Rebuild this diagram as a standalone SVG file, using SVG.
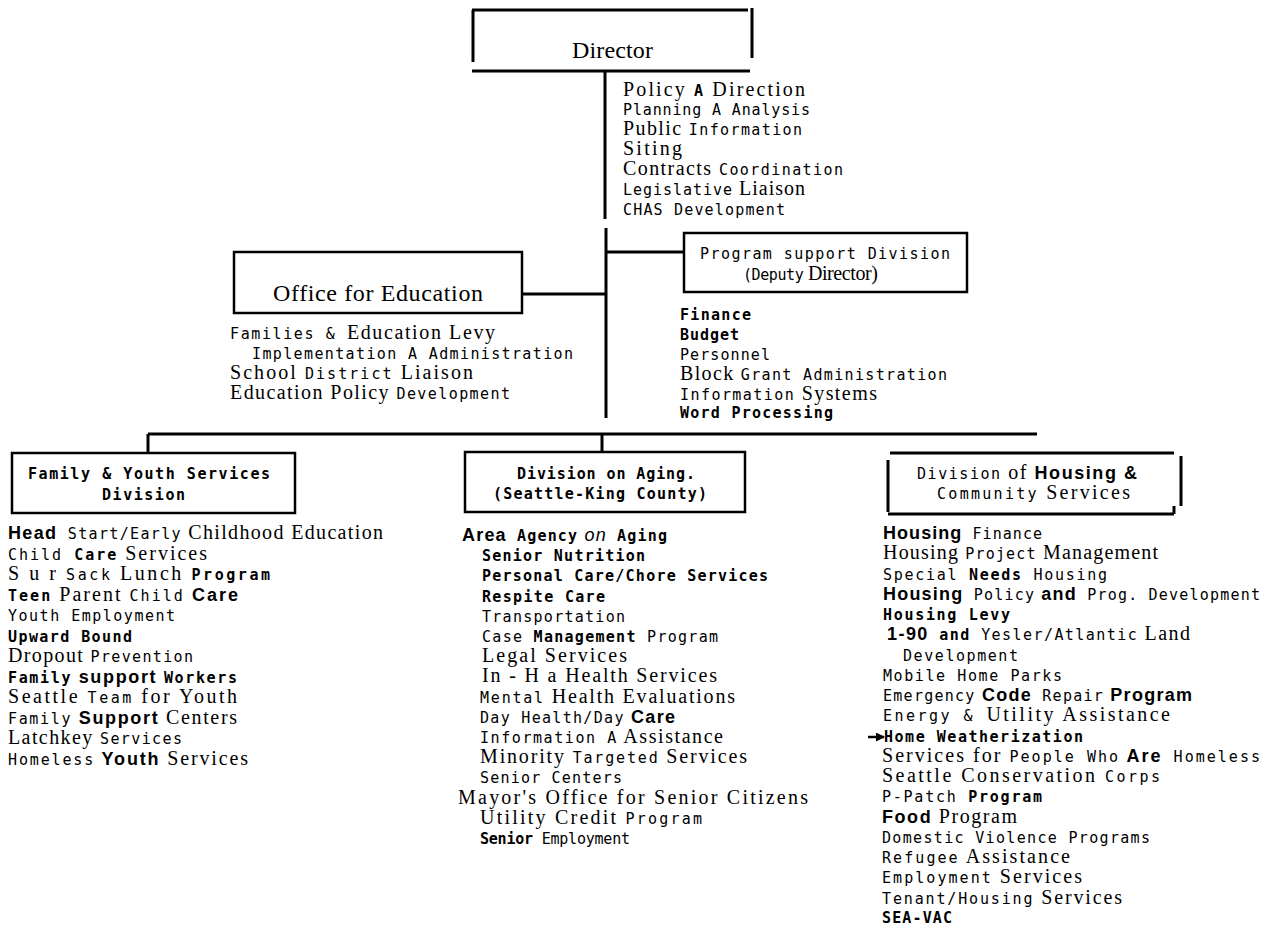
<svg xmlns="http://www.w3.org/2000/svg" width="1276" height="930" viewBox="0 0 1276 930">
<style>
text{fill:#000;font-family:"Liberation Serif",serif;font-size:20px}
.s{font-family:"Liberation Serif",serif;font-size:20px}
.sl{font-family:"Liberation Serif",serif;font-size:24px}
.m{font-family:"DejaVu Sans Mono",monospace;font-size:15px}
.mb{font-family:"DejaVu Sans Mono",monospace;font-size:15px;font-weight:bold}
.b{font-family:"Liberation Sans",sans-serif;font-size:18px;font-weight:bold}
.ln{stroke:#000;fill:none;stroke-width:3}
.bx{stroke:#000;fill:none;stroke-width:2.5}
</style>
<defs>
<marker id="ah" markerWidth="9" markerHeight="9" refX="8" refY="4.5" orient="auto" markerUnits="userSpaceOnUse"><path d="M0,0 L9,4.5 L0,9 Z" fill="#000"/></marker>
</defs>
<rect width="1276" height="930" fill="#fff"/>

<g id="connectors">
<line class="ln" x1="605" y1="71" x2="605" y2="219"/>
<line class="ln" x1="606" y1="228" x2="606" y2="418"/>
<line class="ln" x1="605" y1="252" x2="683" y2="252"/>
<line class="ln" x1="522" y1="294" x2="605" y2="294"/>
<line class="ln" x1="148" y1="434" x2="1037" y2="434"/>
<line class="ln" x1="148" y1="434" x2="148" y2="453" stroke-width="2"/>
<line class="ln" x1="602" y1="434" x2="602" y2="452" stroke-width="2"/>
</g>

<g id="director">
<line class="ln" x1="472" y1="10" x2="748" y2="10"/>
<line class="ln" x1="473" y1="10" x2="473" y2="62" stroke-width="2"/>
<line class="ln" x1="752" y1="8" x2="752" y2="58" stroke-width="4"/>
<line class="ln" x1="472" y1="71" x2="750" y2="71"/>
<text class="sl" x="572" y="58" textLength="81" lengthAdjust="spacing">Director</text>
</g>

<g id="director-staff">
<text x="623" y="96" textLength="182" lengthAdjust="spacing"><tspan class="s">Policy </tspan><tspan class="mb">A</tspan><tspan class="s"> Direction</tspan></text>
<text x="623" y="115" class="m" textLength="187" lengthAdjust="spacing">Planning A Analysis</text>
<text x="623" y="135" textLength="179" lengthAdjust="spacing"><tspan class="s">Public </tspan><tspan class="m">Information</tspan></text>
<text x="623" y="155" class="s" textLength="59" lengthAdjust="spacing">Siting</text>
<text x="623" y="175" textLength="220" lengthAdjust="spacing"><tspan class="s">Contracts </tspan><tspan class="m">Coordination</tspan></text>
<text x="623" y="195" textLength="182" lengthAdjust="spacing"><tspan class="m">Legislative</tspan><tspan class="s"> Liaison</tspan></text>
<text x="623" y="215" class="m" textLength="162" lengthAdjust="spacing">CHAS Development</text>
</g>

<g id="program-support">
<rect class="bx" x="684" y="233" width="283" height="59"/>
<text x="700" y="259" class="m" textLength="250" lengthAdjust="spacing">Program support Division</text>
<text x="743" y="280" textLength="135" lengthAdjust="spacing"><tspan class="m">(Deputy</tspan><tspan class="s"> Director)</tspan></text>
<text x="680" y="320" class="mb" textLength="71" lengthAdjust="spacing">Finance</text>
<text x="680" y="340" class="mb" textLength="59" lengthAdjust="spacing">Budget</text>
<text x="680" y="360" class="m" textLength="90" lengthAdjust="spacing">Personnel</text>
<text x="680" y="380" textLength="267" lengthAdjust="spacing"><tspan class="s">Block </tspan><tspan class="m">Grant Administration</tspan></text>
<text x="680" y="400" textLength="197" lengthAdjust="spacing"><tspan class="m">Information</tspan><tspan class="s"> Systems</tspan></text>
<text x="680" y="418" class="mb" textLength="153" lengthAdjust="spacing">Word Processing</text>
</g>

<g id="office-education">
<rect class="bx" x="234" y="252" width="288" height="61"/>
<text x="273" y="301" class="sl" textLength="210" lengthAdjust="spacing">Office for Education</text>
<text x="230" y="339" textLength="265" lengthAdjust="spacing"><tspan class="m">Families &amp; </tspan><tspan class="s">Education Levy</tspan></text>
<text x="252" y="359" class="m" textLength="321" lengthAdjust="spacing">Implementation A Administration</text>
<text x="230" y="379" textLength="243" lengthAdjust="spacing"><tspan class="s">School </tspan><tspan class="m">District</tspan><tspan class="s"> Liaison</tspan></text>
<text x="230" y="399" textLength="280" lengthAdjust="spacing"><tspan class="s">Education Policy </tspan><tspan class="m">Development</tspan></text>
</g>

<g id="family-youth">
<rect class="bx" x="12" y="453" width="283" height="60"/>
<text x="28" y="479" class="mb" textLength="242" lengthAdjust="spacing">Family &amp; Youth Services</text>
<text x="102" y="500" class="mb" textLength="83" lengthAdjust="spacing">Division</text>
<text x="8" y="539" textLength="375" lengthAdjust="spacing"><tspan class="b">Head</tspan><tspan class="m"> Start/Early</tspan><tspan class="s"> Childhood Education</tspan></text>
<text x="8" y="559.5" textLength="199" lengthAdjust="spacing"><tspan class="m">Child</tspan><tspan class="mb"> Care</tspan><tspan class="s"> Services</tspan></text>
<text x="8" y="580" textLength="262" lengthAdjust="spacing"><tspan class="s">S u r </tspan><tspan class="m">Sack</tspan><tspan class="s"> Lunch </tspan><tspan class="mb">Program</tspan></text>
<text x="8" y="600.5" textLength="230" lengthAdjust="spacing"><tspan class="mb">Teen</tspan><tspan class="s"> Parent </tspan><tspan class="m">Child</tspan><tspan class="b"> Care</tspan></text>
<text x="8" y="621" class="m" textLength="167" lengthAdjust="spacing">Youth Employment</text>
<text x="8" y="641.5" class="mb" textLength="124" lengthAdjust="spacing">Upward Bound</text>
<text x="8" y="662" textLength="185" lengthAdjust="spacing"><tspan class="s">Dropout </tspan><tspan class="m">Prevention</tspan></text>
<text x="8" y="682.5" textLength="229" lengthAdjust="spacing"><tspan class="mb">Family</tspan><tspan class="b"> support </tspan><tspan class="mb">Workers</tspan></text>
<text x="8" y="703" textLength="229" lengthAdjust="spacing"><tspan class="s">Seattle </tspan><tspan class="m">Team</tspan><tspan class="s"> for Youth</tspan></text>
<text x="8" y="723.5" textLength="229" lengthAdjust="spacing"><tspan class="m">Family</tspan><tspan class="b"> Support</tspan><tspan class="s"> Centers</tspan></text>
<text x="8" y="744" textLength="174" lengthAdjust="spacing"><tspan class="s">Latchkey </tspan><tspan class="m">Services</tspan></text>
<text x="8" y="764.5" textLength="240" lengthAdjust="spacing"><tspan class="m">Homeless</tspan><tspan class="b"> Youth</tspan><tspan class="s"> Services</tspan></text>
</g>

<g id="aging">
<rect class="bx" x="465" y="452" width="280" height="60"/>
<text x="517" y="479" class="mb" textLength="178" lengthAdjust="spacing">Division on Aging.</text>
<text x="493" y="499" class="mb" textLength="214" lengthAdjust="spacing">(Seattle-King County)</text>
<text x="462" y="541" textLength="205" lengthAdjust="spacing"><tspan class="b">Area</tspan><tspan class="mb"> Agency</tspan><tspan font-family="Liberation Sans, sans-serif" font-size="18" font-style="italic"> on</tspan><tspan class="mb"> Aging</tspan></text>
<text x="482" y="561.2" class="mb" textLength="163" lengthAdjust="spacing">Senior Nutrition</text>
<text x="482" y="581.4" class="mb" textLength="286" lengthAdjust="spacing">Personal Care/Chore Services</text>
<text x="482" y="601.6" class="mb" textLength="123" lengthAdjust="spacing">Respite Care</text>
<text x="482" y="621.8" class="m" textLength="143" lengthAdjust="spacing">Transportation</text>
<text x="482" y="642" textLength="236" lengthAdjust="spacing"><tspan class="m">Case </tspan><tspan class="mb">Management</tspan><tspan class="m"> Program</tspan></text>
<text x="482" y="662.2" class="s" textLength="145" lengthAdjust="spacing">Legal Services</text>
<text x="482" y="682.4" class="s" textLength="235" lengthAdjust="spacing">In - H a Health Services</text>
<text x="480" y="702.6" textLength="255" lengthAdjust="spacing"><tspan class="m">Mental</tspan><tspan class="s"> Health Evaluations</tspan></text>
<text x="480" y="722.8" textLength="195" lengthAdjust="spacing"><tspan class="m">Day Health/Day</tspan><tspan class="b"> Care</tspan></text>
<text x="480" y="743" textLength="243" lengthAdjust="spacing"><tspan class="m">Information A</tspan><tspan class="s"> Assistance</tspan></text>
<text x="480" y="763.2" textLength="267" lengthAdjust="spacing"><tspan class="s">Minority </tspan><tspan class="m">Targeted</tspan><tspan class="s"> Services</tspan></text>
<text x="480" y="783.4" class="m" textLength="142" lengthAdjust="spacing">Senior Centers</text>
<text x="458" y="803.6" class="s" textLength="350" lengthAdjust="spacing">Mayor's Office for Senior Citizens</text>
<text x="480" y="823.8" textLength="222" lengthAdjust="spacing"><tspan class="s">Utility Credit </tspan><tspan class="m">Program</tspan></text>
<text x="480" y="844" textLength="150" lengthAdjust="spacing"><tspan class="mb">Senior</tspan><tspan class="m"> Employment</tspan></text>
</g>

<g id="housing">
<line class="ln" x1="890" y1="453" x2="1174" y2="453"/>
<line class="ln" x1="888" y1="460" x2="888" y2="512" stroke-width="2.5"/>
<line class="ln" x1="1181" y1="456" x2="1181" y2="506" stroke-width="4"/>
<line class="ln" x1="888" y1="514" x2="1174" y2="514" stroke-width="2.5"/>
<line class="ln" x1="1174" y1="506" x2="1174" y2="514" stroke-width="1.5"/>
<text x="917" y="479" textLength="220" lengthAdjust="spacing"><tspan class="m">Division</tspan><tspan class="s"> of </tspan><tspan class="b">Housing &amp;</tspan></text>
<text x="937" y="499" textLength="193" lengthAdjust="spacing"><tspan class="m">Community</tspan><tspan class="s"> Services</tspan></text>
<text x="883" y="539" textLength="159" lengthAdjust="spacing"><tspan class="b">Housing</tspan><tspan class="m"> Finance</tspan></text>
<text x="883" y="559.3" textLength="275" lengthAdjust="spacing"><tspan class="s">Housing </tspan><tspan class="m">Project</tspan><tspan class="s"> Management</tspan></text>
<text x="883" y="579.5" textLength="224" lengthAdjust="spacing"><tspan class="m">Special</tspan><tspan class="mb"> Needs</tspan><tspan class="m"> Housing</tspan></text>
<text x="883" y="599.8" textLength="377" lengthAdjust="spacing"><tspan class="b">Housing</tspan><tspan class="m"> Policy</tspan><tspan class="b"> and</tspan><tspan class="m"> Prog. Development</tspan></text>
<text x="883" y="620" class="mb" textLength="127" lengthAdjust="spacing">Housing Levy</text>
<text x="887" y="640.3" textLength="303" lengthAdjust="spacing"><tspan class="b">1-90</tspan><tspan class="mb"> and</tspan><tspan class="m"> Yesler/Atlantic</tspan><tspan class="s"> Land</tspan></text>
<text x="903" y="660.6" class="m" textLength="115" lengthAdjust="spacing">Development</text>
<text x="883" y="680.8" class="m" textLength="179" lengthAdjust="spacing">Mobile Home Parks</text>
<text x="883" y="701.1" textLength="309" lengthAdjust="spacing"><tspan class="m">Emergency</tspan><tspan class="b"> Code</tspan><tspan class="m"> Repair</tspan><tspan class="b"> Program</tspan></text>
<text x="883" y="721.3" textLength="287" lengthAdjust="spacing"><tspan class="m">Energy &amp; </tspan><tspan class="s">Utility Assistance</tspan></text>
<path d="M868,737 L884,737" stroke="#000" stroke-width="2.5" marker-end="url(#ah)"/>
<text x="884" y="741.6" class="mb" textLength="199" lengthAdjust="spacing">Home Weatherization</text>
<text x="882" y="761.9" textLength="378" lengthAdjust="spacing"><tspan class="s">Services for </tspan><tspan class="m">People Who</tspan><tspan class="b"> Are</tspan><tspan class="m"> Homeless</tspan></text>
<text x="882" y="782.1" textLength="278" lengthAdjust="spacing"><tspan class="s">Seattle Conservation </tspan><tspan class="m">Corps</tspan></text>
<text x="882" y="802.4" textLength="160" lengthAdjust="spacing"><tspan class="m">P-Patch</tspan><tspan class="mb"> Program</tspan></text>
<text x="882" y="822.6" textLength="135" lengthAdjust="spacing"><tspan class="b">Food</tspan><tspan class="s"> Program</tspan></text>
<text x="882" y="842.9" class="m" textLength="268" lengthAdjust="spacing">Domestic Violence Programs</text>
<text x="882" y="863.2" textLength="188" lengthAdjust="spacing"><tspan class="m">Refugee</tspan><tspan class="s"> Assistance</tspan></text>
<text x="882" y="883.4" textLength="200" lengthAdjust="spacing"><tspan class="m">Employment</tspan><tspan class="s"> Services</tspan></text>
<text x="882" y="903.7" textLength="240" lengthAdjust="spacing"><tspan class="m">Tenant/Housing</tspan><tspan class="s"> Services</tspan></text>
<text x="882" y="923" class="mb" textLength="70" lengthAdjust="spacing">SEA-VAC</text>
</g>
</svg>
